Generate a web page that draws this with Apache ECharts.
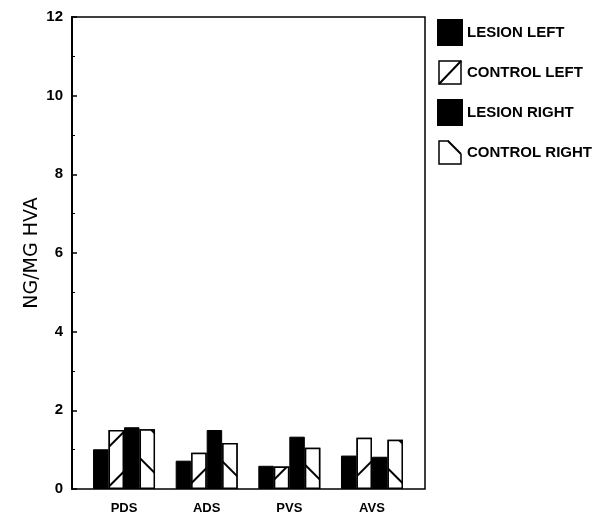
<!DOCTYPE html>
<html>
<head>
<meta charset="utf-8">
<script src="https://cdn.jsdelivr.net/npm/echarts@6/dist/echarts.min.js"></script>
<style>
  html, body { margin: 0; padding: 0; background: #fff; }
  #chart { width: 607px; height: 516px; }
</style>
</head>
<body>
<div id="chart"></div>
<script>
// Regions and measured concentrations (ng/mg HVA)
const categories = ['PDS', 'ADS', 'PVS', 'AVS'];
const seriesNames = ['LESION LEFT', 'CONTROL LEFT', 'LESION RIGHT', 'CONTROL RIGHT'];
const lesionLeft = [1.01, 0.72, 0.59, 0.85];
const controlLeft = [1.50, 0.92, 0.57, 1.30];
const lesionRight = [1.57, 1.50, 1.33, 0.82];
const controlRight = [1.52, 1.17, 1.05, 1.25];
const yTicks = { min: 0, max: 12, interval: 2 };

const FONT = '"Liberation Sans", Arial, sans-serif';

function svgIcon(inner) {
  const svg = "<svg xmlns='http://www.w3.org/2000/svg' width='24' height='25' viewBox='0 0 24 25'>" + inner + "</svg>";
  return 'image://data:image/svg+xml;charset=utf-8,' + encodeURIComponent(svg);
}
const iconControlLeft = svgIcon(
  "<rect x='1' y='1' width='22' height='23' fill='#fff' stroke='#000' stroke-width='1.5'/>" +
  "<line x1='1' y1='24' x2='23' y2='1' stroke='#000' stroke-width='2'/>"
);
const iconControlRight = svgIcon(
  "<polyline points='11,1 1,1 1,24 23,24 23,14' fill='#fff' stroke='#000' stroke-width='1.5'/>" +
  "<line x1='10' y1='1' x2='23' y2='14' stroke='#000' stroke-width='2'/>"
);

function hatch(rot) {
  return {
    symbol: 'rect',
    symbolSize: 1,
    color: '#000',
    backgroundColor: '#fff',
    dashArrayX: [1, 0],
    dashArrayY: [2, 26],
    rotation: rot
  };
}

function solidBar(name, data) {
  return {
    name: name, type: 'bar', xAxisIndex: 1, yAxisIndex: 1,
    data: data, barWidth: 15.5, barGap: '0%',
    itemStyle: { color: '#000', borderColor: '#000', borderWidth: 1 }
  };
}
function hatchedBar(name, data, rot) {
  return {
    name: name, type: 'bar', xAxisIndex: 1, yAxisIndex: 1,
    data: data, barWidth: 15.5, barGap: '0%',
    itemStyle: { color: '#fff', borderColor: '#000', borderWidth: 1.5, decal: hatch(rot) }
  };
}

const chart = echarts.init(document.getElementById('chart'), null, { renderer: 'canvas' });
chart.setOption({
  backgroundColor: '#fff',
  animation: false,
  grid: [
    { left: 72, right: 182, top: 17, bottom: 27, show: true, borderColor: '#000', borderWidth: 1.5, backgroundColor: 'transparent' },
    { left: 82.7, right: 193.7, top: 17, bottom: 27 }
  ],
  xAxis: [
    { type: 'value', gridIndex: 0, show: false, min: 0, max: 1 },
    {
      type: 'category', gridIndex: 1, data: categories,
      axisLine: { show: false }, axisTick: { show: false },
      axisLabel: { color: '#000', fontFamily: FONT, fontWeight: 'bold', fontSize: 13, margin: 13 }
    }
  ],
  yAxis: [
    {
      type: 'value', gridIndex: 0,
      min: yTicks.min, max: yTicks.max, interval: yTicks.interval,
      name: 'NG/MG HVA', nameLocation: 'middle', nameGap: 30, nameMoveOverlap: false,
      nameTextStyle: { color: '#000', fontFamily: '"DejaVu Sans", sans-serif', fontSize: 19 },
      axisLine: { show: true, lineStyle: { color: '#000', width: 2 } },
      axisTick: { show: true, inside: true, length: 5, lineStyle: { color: '#000', width: 1.5 } },
      minorTick: { show: true, splitNumber: 2, length: 3, lineStyle: { color: '#000', width: 1 } },
      splitLine: { show: false },
      axisLabel: { color: '#000', fontFamily: FONT, fontWeight: 'bold', fontSize: 15, margin: 9 }
    },
    { type: 'value', gridIndex: 1, min: yTicks.min, max: yTicks.max, show: false }
  ],
  legend: {
    orient: 'vertical', left: 437, top: 19, padding: 0,
    itemWidth: 24, itemHeight: 25, itemGap: 14,
    selectedMode: false,
    textStyle: { color: '#000', fontFamily: FONT, fontWeight: 'bold', fontSize: 15 },
    data: [
      { name: seriesNames[0], icon: 'rect' },
      { name: seriesNames[1], icon: iconControlLeft },
      { name: seriesNames[2], icon: 'rect' },
      { name: seriesNames[3], icon: iconControlRight }
    ]
  },
  series: [
    solidBar(seriesNames[0], lesionLeft),
    hatchedBar(seriesNames[1], controlLeft, -Math.PI / 4),
    solidBar(seriesNames[2], lesionRight),
    hatchedBar(seriesNames[3], controlRight, Math.PI / 4)
  ]
});
</script>
</body>
</html>
